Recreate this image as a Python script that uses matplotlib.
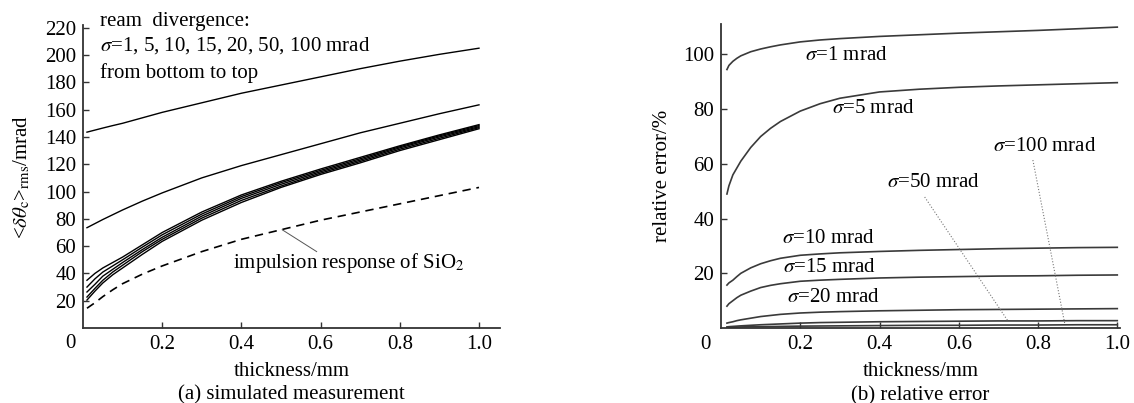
import matplotlib
matplotlib.use('Agg')
import matplotlib.pyplot as plt
import numpy as np

plt.rcParams['font.family'] = ['Liberation Serif', 'DejaVu Serif']
plt.rcParams['mathtext.fontset'] = 'stix'
plt.rcParams['font.size'] = 15

# (a) simulated measurement
thick_a = [0.01, 0.03, 0.05, 0.075, 0.1, 0.15, 0.2, 0.3, 0.4, 0.5, 0.6, 0.7, 0.8, 0.9, 1.0]
meas_1 = [20.5, 27, 33, 39, 44, 54, 63.5, 79, 92, 103, 112.5, 121, 130, 138, 146]
meas_5 = [22.7, 29, 35, 41, 46, 56, 65, 80.5, 93.5, 104, 113.5, 122, 131, 139, 146.8]
meas_10 = [26.4, 32, 38, 43, 48, 57.5, 66.5, 82, 95, 105.3, 114.5, 123, 132, 140, 147.5]
meas_15 = [30, 36, 41, 45.5, 50, 59.3, 68.3, 83.5, 96.3, 106.5, 115.5, 124, 132.8, 140.8, 148.3]
meas_20 = [35, 40, 44, 48, 52, 61, 70, 85, 97.5, 107.5, 116.5, 125, 133.5, 141.5, 149]
meas_50 = [73.5, 76.5, 79.5, 83, 86.5, 93, 99, 110, 119, 127, 135, 143, 150, 157, 163.5]
meas_100 = [143.5, 145, 146.5, 148.3, 150, 154, 158, 165, 172, 178, 184, 190, 195.5, 200.5, 205]
impulse_sio2 = [14.5, 18.5, 23, 28, 32.5, 39.5, 45.5, 56, 65, 72, 79, 85, 91, 97, 103]

# (b) relative error
thick_b = [0.015, 0.02, 0.03, 0.04, 0.05, 0.075, 0.1, 0.125, 0.15, 0.2, 0.25, 0.3,
           0.4, 0.5, 0.6, 0.7, 0.8, 0.9, 1.0]
err_1 = [94.5, 96, 97.5, 98.6, 99.5, 101, 102, 102.8, 103.5, 104.6, 105.3, 105.8,
         106.6, 107.2, 107.8, 108.3, 108.8, 109.4, 110]
err_5 = [49, 52, 56, 58.5, 61, 66, 70, 73, 75.5, 79.3, 82, 84,
         86.3, 87.3, 88, 88.5, 88.9, 89.3, 89.7]
err_10 = [15.7, 16.5, 17.5, 18.8, 20, 22, 23.5, 24.6, 25.5, 26.6, 27.1, 27.5,
          28, 28.4, 28.7, 29, 29.2, 29.4, 29.5]
err_15 = [8, 8.9, 10, 11.1, 12, 13.5, 14.8, 15.6, 16.2, 17.1, 17.5, 17.8,
          18.3, 18.6, 18.8, 19, 19.1, 19.3, 19.4]
err_20 = [1.8, 2.0, 2.3, 2.7, 3, 3.6, 4.2, 4.6, 5, 5.5, 5.8, 6,
          6.3, 6.5, 6.7, 6.8, 6.9, 7, 7.1]
err_50 = [0.4, 0.5, 0.6, 0.7, 0.8, 1.0, 1.2, 1.35, 1.5, 1.8, 2.0, 2.1,
          2.3, 2.4, 2.5, 2.6, 2.6, 2.7, 2.7]
err_100 = [0.2, 0.25, 0.3, 0.35, 0.4, 0.5, 0.5, 0.55, 0.6, 0.7, 0.75, 0.8,
           0.9, 1.0, 1.0, 1.1, 1.1, 1.2, 1.2]

fig = plt.figure(figsize=(11.34, 4.03), dpi=100)
ax1 = fig.add_axes([0.0732, 0.186, 0.3677, 0.752])
ax2 = fig.add_axes([0.6358, 0.186, 0.3519, 0.7535])

for ax in (ax1, ax2):
    ax.spines['top'].set_visible(False)
    ax.spines['right'].set_visible(False)
    for s in ('left', 'bottom'):
        ax.spines[s].set_linewidth(1.3)
        ax.spines[s].set_color('#333333')
    ax.tick_params(direction='in', length=4, width=1, color='#333333', pad=5, labelsize=15)

# left panel
for ys in (meas_1, meas_5, meas_10, meas_15, meas_20):
    ax1.plot(thick_a, ys, color='black', lw=1.0)
ax1.plot(thick_a, meas_50, color='black', lw=1.0)
ax1.plot(thick_a, meas_100, color='black', lw=1.0)
ax1.plot(thick_a, impulse_sio2, color='black', lw=1.2, dashes=(5, 3.5))

ax1.set_xlim(0, 1.053)
ax1.set_ylim(0, 222)
ax1.set_xticks([0.2, 0.4, 0.6, 0.8, 1.0])
ax1.set_xticklabels(['0.2', '0.4', '0.6', '0.8', '1.0'])
ax1.set_yticks(np.arange(20, 221, 20))
ax1.text(-0.031, -0.05, '0', transform=ax1.transAxes, ha='center', va='center')

ax1.text(0.041, 1.013, 'ream  divergence:', transform=ax1.transAxes, ha='left', va='center')
ax1.text(0.041, 0.931, r'$\sigma$=1, 5, 10, 15, 20, 50, 100 mrad', transform=ax1.transAxes, ha='left', va='center')
ax1.text(0.041, 0.842, 'from bottom to top', transform=ax1.transAxes, ha='left', va='center')

ax1.plot([0.503, 0.59], [72, 56], color='#555555', lw=0.7)
ax1.text(0.379, 48, r'impulsion response of SiO$_2$', ha='left', va='center')

ax1.set_xlabel('thickness/mm', fontsize=15)
ax1.xaxis.set_label_coords(0.5, -0.112)
ax1.set_ylabel(r'<$\delta\theta_{\rm c}$>$_{\rm rms}$/mrad', fontsize=15)
ax1.yaxis.set_label_coords(-0.122, 0.5)
ax1.text(0.5, -0.222, '(a) simulated measurement', transform=ax1.transAxes, ha='center', va='center')

# right panel
gray = '#3a3a3a'
for ys in (err_1, err_5, err_10, err_15, err_20, err_50, err_100):
    ax2.plot(thick_b, ys, color=gray, lw=1.2)

ax2.set_xlim(0, 1.007)
ax2.set_ylim(0, 111)
ax2.set_xticks([0.2, 0.4, 0.6, 0.8, 1.0])
ax2.set_xticklabels(['0.2', '0.4', '0.6', '0.8', '1.0'])
ax2.set_yticks([20, 40, 60, 80, 100])
ax2.text(-0.04, -0.055, '0', transform=ax2.transAxes, ha='center', va='center')

ax2.text(0.212, 99.8, r'$\sigma$=1 mrad', ha='left', va='center')
ax2.text(0.28, 80.4, r'$\sigma$=5 mrad', ha='left', va='center')
ax2.text(0.154, 32.9, r'$\sigma$=10 mrad', ha='left', va='center')
ax2.text(0.157, 22.3, r'$\sigma$=15 mrad', ha='left', va='center')
ax2.text(0.166, 11.3, r'$\sigma$=20 mrad', ha='left', va='center')
ax2.text(0.535, 53.3, r'$\sigma$=50 mrad', ha='center', va='center')
ax2.text(0.818, 66.3, r'$\sigma$=100 mrad', ha='center', va='center')
ax2.plot([0.514, 0.724], [47.9, 2.6], color='#777777', lw=0.8, ls=':')
ax2.plot([0.787, 0.868], [61.4, 1.2], color='#777777', lw=0.8, ls=':')

ax2.set_xlabel('thickness/mm', fontsize=15)
ax2.xaxis.set_label_coords(0.5, -0.112)
ax2.set_ylabel('relative error/%', fontsize=15)
ax2.yaxis.set_label_coords(-0.123, 0.5)
ax2.text(0.5, -0.222, '(b) relative error', transform=ax2.transAxes, ha='center', va='center')

fig.savefig('out.png', dpi=100)
